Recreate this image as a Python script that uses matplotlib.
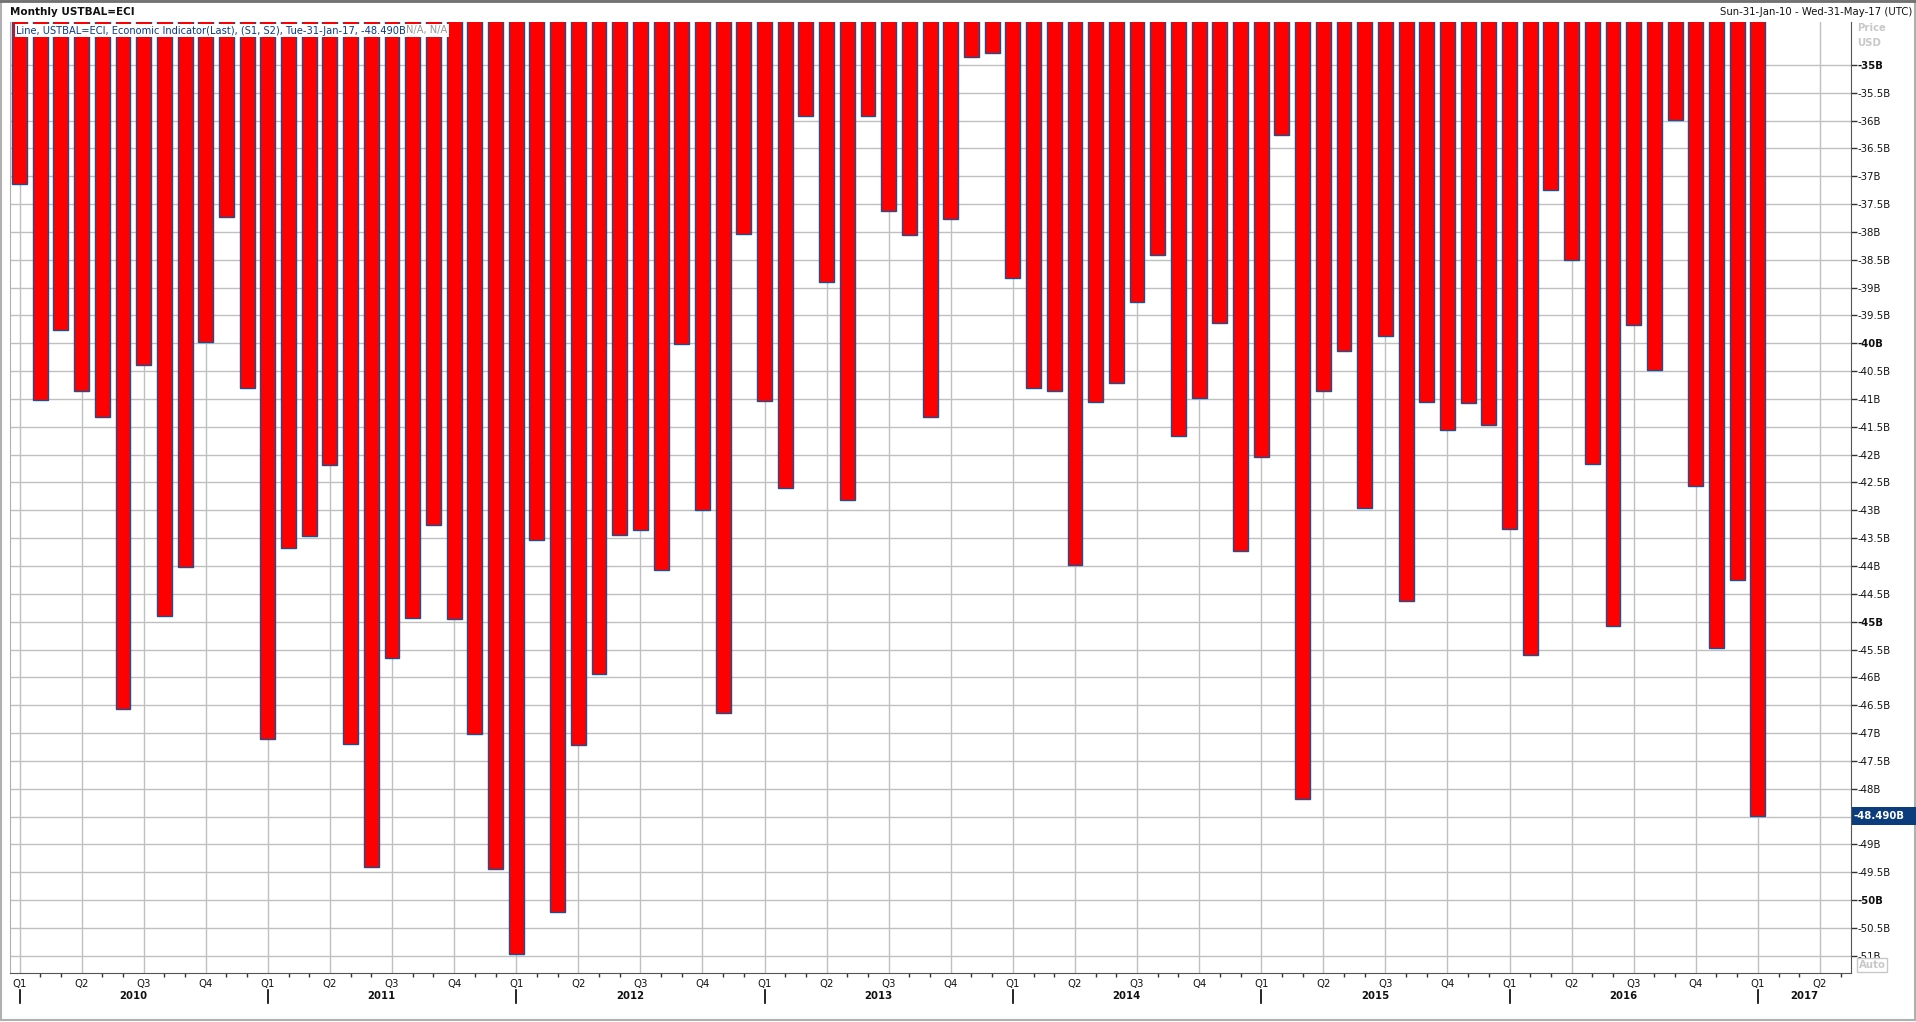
import matplotlib
matplotlib.use("Agg")
import matplotlib.pyplot as plt
import matplotlib.transforms as mtransforms
from matplotlib.patches import Rectangle
import numpy as np

plt.rcParams['font.family'] = ['DejaVu Sans']

# ---- data (monthly US trade balance, billions USD, Jan-2010 .. Jan-2017) ----
years = [2010, 2011, 2012, 2013, 2014, 2015, 2016, 2017]
quarter_labels = ["Q1", "Q2", "Q3", "Q4"]
values = [
    -37.13, -41.01, -39.76, -40.86, -41.32, -46.56, -40.39, -44.89, -44.01, -39.98, -37.74, -40.81,  # 2010
    -47.11, -43.68, -43.46, -42.19, -47.19, -49.41, -45.66, -44.93, -43.27, -44.96, -47.02, -49.45,  # 2011
    -50.97, -43.53, -50.22, -47.21, -45.94, -43.44, -43.36, -44.08, -40.02, -43.00, -46.64, -38.03,  # 2012
    -41.03, -42.59, -35.92, -38.90, -42.81, -35.92, -37.63, -38.05, -41.32, -37.76, -34.85, -34.78,  # 2013
    -38.82, -40.81, -40.86, -43.99, -41.05, -40.72, -39.25, -38.42, -41.67, -40.99, -39.63, -43.73,  # 2014
    -42.04, -36.25, -48.18, -40.86, -40.13, -42.96, -39.87, -44.63, -41.05, -41.56, -41.07, -41.47,  # 2015
    -43.33, -45.59, -37.24, -38.51, -42.17, -45.07, -39.67, -40.48, -35.99, -42.57, -45.48, -44.25,  # 2016
    -48.49,                                                                                          # 2017
]
last_label = "-48.490B"
title = "Monthly USTBAL=ECI"
date_range = "Sun-31-Jan-10 - Wed-31-May-17 (UTC)"
legend_main = "Line, USTBAL=ECI, Economic Indicator(Last), (S1, S2), Tue-31-Jan-17, -48.490B"
legend_na = "N/A, N/A"

W, H = 1916, 1022
fig = plt.figure(figsize=(W / 100, H / 100), dpi=100)
fig.patch.set_facecolor("white")

ax_l, ax_r, ax_t, ax_b = 9.8, 1851, 21.5, 973
ax = fig.add_axes([ax_l / W, 1 - ax_b / H, (ax_r - ax_l) / W, (ax_b - ax_t) / H])

n = len(values)
x = np.arange(n)
ymin, ymax = -51.31, -34.22
ax.set_ylim(ymin, ymax)
ax.set_xlim(-0.47, 88.5)

vals = np.array(values)
ax.bar(x, ymax - vals + 1, bottom=vals, width=0.72, color="#ff0000",
       edgecolor="#1f4e8c", linewidth=1.0, zorder=3)

# grid
for q in range(0, 89, 3):
    ax.axvline(q, color="#c0c0c0", lw=1, zorder=1)
yt = np.arange(-51.0, -34.99, 0.5)
for v in yt:
    ax.axhline(v, color="#c0c0c0", lw=1, zorder=1)

# spines
ax.spines["left"].set_color("#b0b0b0")
ax.spines["right"].set_color("#555555")
ax.spines["bottom"].set_color("#555555")
ax.spines["top"].set_visible(False)

# y axis on right
ax.yaxis.tick_right()
ax.set_yticks(yt)
def fmt(v):
    if abs(v - vals[-1]) < 0.25:
        return ""  # hidden behind the last-value marker
    s = ("%.1f" % v).rstrip("0").rstrip(".")
    return s + "B"
ax.set_yticklabels([fmt(v) for v in yt])
for lab, v in zip(ax.get_yticklabels(), yt):
    lab.set_fontsize(7.3)
    if abs(v) % 5 == 0:
        lab.set_fontweight("bold")
ax.tick_params(axis="y", direction="out", length=4, width=1, color="#333333", pad=1, labelcolor="#111111")

# x axis: monthly ticks (not at quarter starts), quarter labels drawn manually
ax.set_xticks([m for m in range(0, 89) if m % 3 != 0])
ax.set_xticklabels([])
ax.tick_params(axis="x", direction="out", length=3, width=1, color="#333333")

trans = mtransforms.blended_transform_factory(ax.transData, fig.transFigure)
for i, q in enumerate(range(0, 88, 3)):
    ax.text(q, 1 - 983.5 / H, quarter_labels[i % 4], transform=trans, ha="center", va="center",
            fontsize=7.3, color="#111111")
for k, yr in enumerate(years):
    start = k * 12
    mid = start + 5.5 if yr != 2017 else (start + 88.5) / 2
    ax.text(mid, 1 - 995.5 / H, str(yr), transform=trans, ha="center",
            va="center", fontsize=7.3, fontweight="bold", color="#111111")
    ax.plot([start, start], [1 - 990 / H, 1 - 1003 / H], transform=trans, color="black",
            lw=1.2, clip_on=False)

# title and range
fig.text(10.5 / W, 1 - 12.3 / H, title, fontsize=7.5, fontweight="bold", ha="left", va="center", color="#111111")
fig.text(1912 / W, 1 - 12 / H, date_range, fontsize=7.3, ha="right", va="center", color="#111111")

# legend text
t1 = fig.text(16.5 / W, 1 - 30.5 / H, legend_main, fontsize=7.1, ha="left", va="center", color="#0b3a8a",
              bbox=dict(facecolor="white", edgecolor="none", pad=1.0), zorder=10)
fig.canvas.draw()
bb = t1.get_window_extent()
fig.text(bb.x1 / W, 1 - 30.5 / H, legend_na, fontsize=7.1, ha="left", va="center", color="#9a9a9a",
         bbox=dict(facecolor="white", edgecolor="none", pad=1.0), zorder=10)

# price / usd labels
fig.text(1857 / W, 1 - 28 / H, "Price", fontsize=7.3, fontweight="bold", color="#c8c8c8", ha="left", va="center")
fig.text(1857 / W, 1 - 43 / H, "USD", fontsize=7.3, fontweight="bold", color="#c8c8c8", ha="left", va="center")
fig.text(1859 / W, 1 - 965 / H, "Auto", fontsize=7.3, fontweight="bold", color="#c8c8c8", ha="left", va="center",
         bbox=dict(facecolor="white", edgecolor="#c8c8c8", pad=1.2, lw=1))

# last value box
ytr = mtransforms.blended_transform_factory(fig.transFigure, ax.transData)
fig.patches.append(Rectangle((1852 / W, vals[-1] - 0.17), (W - 1852) / W, 0.34, transform=ytr,
                             facecolor="#0b3d7c", edgecolor="none", zorder=5))
fig.text(1854 / W, vals[-1], last_label, transform=ytr, fontsize=7.3, fontweight="bold", color="white",
         ha="left", va="center", zorder=6)

# figure border
fig.patches.append(Rectangle((0.5 / W, 2.5 / H), (W - 1.5) / W, (H - 3.5) / H, transform=fig.transFigure,
                             facecolor="none", edgecolor="#b0b0b0", lw=1.5, zorder=0))
fig.add_artist(plt.Line2D([0, 1], [1 - 1 / H, 1 - 1 / H], transform=fig.transFigure, color="#707070", lw=2))

fig.savefig("out.png", dpi=100)
